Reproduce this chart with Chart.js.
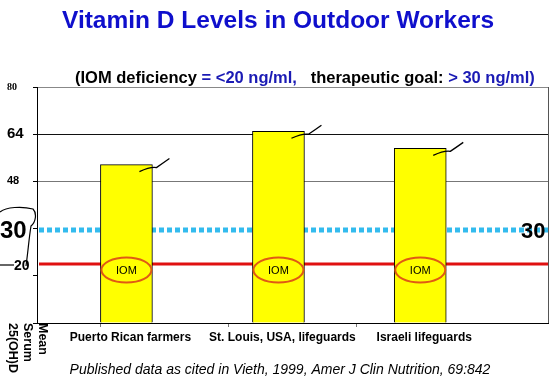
<!DOCTYPE html>
<html>
<head>
<meta charset="utf-8">
<script src="https://cdn.jsdelivr.net/npm/chart.js@4/dist/chart.umd.min.js"></script>
<style>
  html, body { margin: 0; padding: 0; background: #fff; }
  #wrap { width: 553px; height: 391px; }
</style>
</head>
<body>
<div id="wrap"><canvas id="vitDChart" width="553" height="391"></canvas></div>
<script>
// du lieu doc tu hinh
const groups = ['Puerto Rican farmers', 'St. Louis, USA, lifeguards', 'Israeli lifeguards'];
const meanLevels = [53.7, 65, 59.2];
const groupSlots = [0.70, 1.89, 3.0];   // vi tri nhom tren truc x (don vi o)
const yTicksShown = [48, 64, 80];
const iomLevel = 20;      // nguong thieu hut IOM
const goalLevel = 31.5;   // muc tieu dieu tri (duong cham), nhan "30"

const SANS = '"Liberation Sans", Arial, sans-serif';

// ve cac duong tham chieu phia sau cot
const refLines = {
    id: 'refLines',
    beforeDatasetsDraw(chart) {
        const { ctx, chartArea: a, scales: { y } } = chart;
        ctx.save();
        // duong cham xanh (muc tieu)
        ctx.strokeStyle = '#33bbee';
        ctx.lineWidth = 5;
        ctx.setLineDash([5, 3]);
        const yg = Math.round(y.getPixelForValue(goalLevel));
        ctx.beginPath();
        ctx.moveTo(a.left + 2, yg);
        ctx.lineTo(a.right, yg);
        ctx.stroke();
        // duong do (IOM)
        ctx.setLineDash([]);
        ctx.strokeStyle = '#e01010';
        ctx.lineWidth = 3;
        const yi = Math.round(y.getPixelForValue(iomLevel));
        ctx.beginPath();
        ctx.moveTo(a.left + 2, yi);
        ctx.lineTo(a.right, yi);
        ctx.stroke();
        // vien phai cua vung ve
        ctx.strokeStyle = '#555';
        ctx.lineWidth = 1;
        ctx.beginPath();
        ctx.moveTo(a.right + 0.5, a.top);
        ctx.lineTo(a.right + 0.5, a.bottom);
        ctx.stroke();
        ctx.restore();
    }
};

// chu, hinh elip IOM, net ve tay
const overlay = {
    id: 'overlay',
    afterDraw(chart) {
        const { ctx, chartArea: a, scales: { x, y } } = chart;
        ctx.save();

        // tieu de
        ctx.fillStyle = '#0f0fcc';
        ctx.font = 'bold 24.5px ' + SANS;
        ctx.textAlign = 'center';
        ctx.textBaseline = 'middle';
        ctx.fillText('Vitamin D Levels in Outdoor Workers', 278, 21);

        // phu de nhieu mau
        ctx.font = 'bold 16.5px ' + SANS;
        ctx.textAlign = 'left';
        const parts = [
            ['(IOM deficiency ', '#000'],
            ['= <20 ng/ml,', '#1a1ab4'],
            ['   therapeutic goal: ', '#000'],
            ['> 30 ng/ml)', '#1a1ab4']
        ];
        let px = 75;
        parts.forEach(([t, c]) => {
            ctx.fillStyle = c;
            ctx.fillText(t, px, 78);
            px += ctx.measureText(t).width;
        });

        // elip IOM tren moi cot
        groupSlots.forEach(s => {
            const cx = x.getPixelForValue(s);
            const cy = y.getPixelForValue(iomLevel) + 6;
            ctx.beginPath();
            ctx.ellipse(cx, cy, 25, 12.5, 0, 0, Math.PI * 2);
            ctx.fillStyle = '#ffff00';
            ctx.fill();
            ctx.strokeStyle = '#e05a14';
            ctx.lineWidth = 2;
            ctx.stroke();
            ctx.fillStyle = '#000';
            ctx.font = '11px ' + SANS;
            ctx.textAlign = 'center';
            ctx.fillText('IOM', cx, cy + 1);
        });

        // net ve tay tren dinh cot
        ctx.strokeStyle = '#000';
        ctx.lineWidth = 1.3;
        groupSlots.forEach((s, i) => {
            const cx = x.getPixelForValue(s);
            const top = y.getPixelForValue(meanLevels[i]);
            ctx.beginPath();
            ctx.moveTo(cx + 13, top + 7);
            ctx.quadraticCurveTo(cx + 24, top + 2, cx + 30, top + 3);
            ctx.quadraticCurveTo(cx + 36, top - 1, cx + 43, top - 6);
            ctx.stroke();
        });

        // nhan nhom duoi truc x
        ctx.fillStyle = '#000';
        ctx.font = 'bold 12px ' + SANS;
        ctx.textAlign = 'center';
        groups.forEach((g, i) => {
            ctx.fillText(g, x.getPixelForValue(groupSlots[i]) + 4, a.bottom + 15);
        });

        // chu thich nguon
        ctx.font = 'italic 14px ' + SANS;
        ctx.fillText('Published data as cited in Vieth, 1999, Amer J Clin Nutrition, 69:842', 280, 370);

        // tieu de truc y xoay doc
        ctx.font = 'bold 12.5px ' + SANS;
        ctx.textAlign = 'left';
        [['Mean', 42], ['Serum', 27], ['25(OH)D', 12]].forEach(([t, lx]) => {
            ctx.save();
            ctx.translate(lx, a.bottom);
            ctx.rotate(Math.PI / 2);
            ctx.fillText(t, 0, 0);
            ctx.restore();
        });

        // nhan 30 va 20
        const yg = y.getPixelForValue(goalLevel);
        const yi = y.getPixelForValue(iomLevel);
        ctx.textAlign = 'left';
        ctx.font = 'bold 24px ' + SANS;
        ctx.fillText('30', 0, yg + 1);
        ctx.font = 'bold 22px ' + SANS;
        ctx.fillText('30', 521, yg + 2);
        ctx.font = 'bold 14px ' + SANS;
        ctx.fillText('20', 14, yi + 2);

        // vong ve tay quanh so 30
        ctx.lineWidth = 1.2;
        ctx.beginPath();
        ctx.moveTo(0, 212);
        ctx.bezierCurveTo(6, 207, 22, 206, 33, 209);
        ctx.bezierCurveTo(37, 213, 36, 222, 31, 226);
        ctx.bezierCurveTo(29, 238, 28, 252, 26, 266);
        ctx.stroke();
        ctx.beginPath();
        ctx.moveTo(0, yi + 1);
        ctx.lineTo(14, yi + 1);
        ctx.stroke();

        ctx.restore();
    }
};

const ctx = document.getElementById('vitDChart').getContext('2d');
const vitDChart = new Chart(ctx, {
    type: 'bar',
    data: {
        datasets: [{
            label: 'Mean Serum 25(OH)D',
            data: groupSlots.map((s, i) => ({ x: s, y: meanLevels[i] })),
            backgroundColor: '#ffff00',
            borderColor: '#000',
            borderWidth: 1,
            barThickness: 52
        }]
    },
    options: {
        responsive: false,
        animation: false,
        layout: { padding: { top: 87, left: 7, right: 5, bottom: 0 } },
        plugins: {
            legend: { display: false },
            tooltip: { enabled: false }
        },
        scales: {
            x: {
                type: 'linear',
                min: 0,
                max: 4,
                offset: false,
                afterFit: (s) => { s.height = 68; },
                border: { color: '#000', width: 1 },
                grid: {
                    drawOnChartArea: false,
                    tickLength: 4,
                    tickColor: (c) => (c.tick && (c.tick.value === 0 || c.tick.value === 4)) ? 'rgba(0,0,0,0)' : '#777'
                },
                ticks: { stepSize: 1, callback: () => '' }
            },
            y: {
                min: 0,
                max: 80,
                afterFit: (s) => { s.width = 30; },
                afterBuildTicks: (s) => {
                    s.ticks = [0, 16, 32, 48, 64, 80].map(v => ({ value: v }));
                },
                border: { color: '#000', width: 1 },
                grid: {
                    tickLength: 4,
                    color: (c) => {
                        const v = c.tick ? c.tick.value : null;
                        if (v === 64) return '#111';
                        if (v === 48) return '#777';
                        if (v === 80) return '#888';
                        return 'rgba(0,0,0,0)';
                    },
                    tickColor: '#000'
                },
                ticks: {
                    crossAlign: 'far',
                    color: '#000',
                    callback: (v) => yTicksShown.includes(v) ? String(v) : '',
                    font: (c) => {
                        const v = c.tick ? c.tick.value : null;
                        if (v === 80) return { family: '"Liberation Serif", serif', size: 10, weight: 'bold' };
                        if (v === 64) return { family: SANS, size: 15, weight: 'bold' };
                        return { family: SANS, size: 11, weight: 'bold' };
                    }
                }
            }
        }
    },
    plugins: [refLines, overlay]
});
</script>
</body>
</html>
